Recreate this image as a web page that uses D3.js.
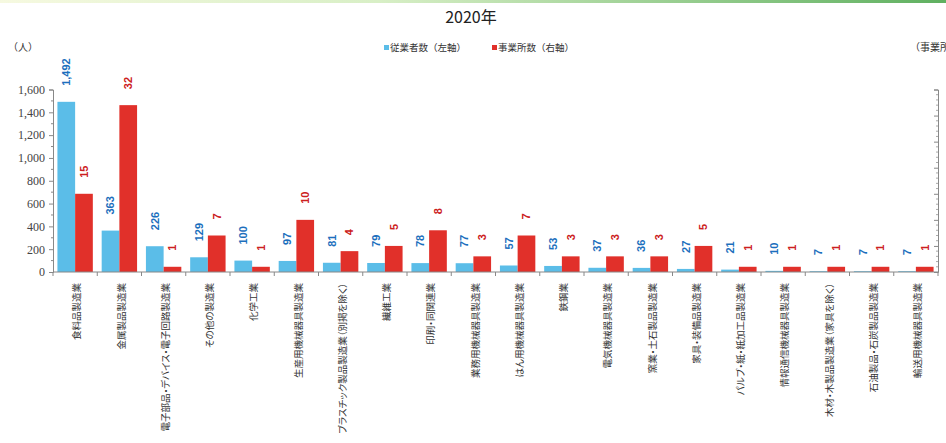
<!DOCTYPE html>
<html><head><meta charset="utf-8">
<script src="https://cdn.jsdelivr.net/npm/d3@7"></script>
<style>
body{margin:0;background:#fff;}
svg{display:block;}
.cat{font-feature-settings:"palt";}
</style></head>
<body>
<svg id="c" width="946" height="443"></svg>
<script>
const categories = [
  "食料品製造業","金属製品製造業","電子部品・デバイス・電子回路製造業","その他の製造業","化学工業",
  "生産用機械器具製造業","プラスチック製品製造業（別掲を除く）","繊維工業","印刷・同関連業","業務用機械器具製造業",
  "はん用機械器具製造業","鉄鋼業","電気機械器具製造業","窯業・土石製品製造業","家具・装備品製造業",
  "パルプ・紙・紙加工品製造業","情報通信機械器具製造業","木材・木製品製造業（家具を除く）","石油製品・石炭製品製造業","輸送用機械器具製造業"
];
const employees = [1492,363,226,129,100,97,81,79,78,77,57,53,37,36,27,21,10,7,7,7];
const establishments = [15,32,1,7,1,10,4,5,8,3,7,3,3,3,5,1,1,1,1,1];
const leftTicks = [0,200,400,600,800,1000,1200,1400,1600];
const rightTicks = [0,5,10,15,20,25,30,35];
const seriesNames = ["従業者数（左軸）","事業所数（右軸）"];
const title = "2020年";

const svg = d3.select("#c");
const L = 53, R = 938, T = 89.5, B = 272;
const blue = "#5bbde8", red = "#e1302a";
const blueText = "#1c6fbd", redText = "#cc2020";

// top gradient strip
const defs = svg.append("defs");
const g0 = defs.append("linearGradient").attr("id","gr").attr("x1","0").attr("x2","1");
g0.append("stop").attr("offset","0").attr("stop-color","#f6f9e0");
g0.append("stop").attr("offset","0.4").attr("stop-color","#d8efc6");
g0.append("stop").attr("offset","1").attr("stop-color","#5fb060");
svg.append("rect").attr("x",0).attr("y",0).attr("width",946).attr("height",3).attr("fill","url(#gr)");

const x = d3.scaleBand().domain(categories).range([L,R]).paddingInner(0.2).paddingOuter(0.1);
const xs = d3.scaleBand().domain(["emp","est"]).range([0,x.bandwidth()]);
const yL = d3.scaleLinear().domain([0,1600]).range([B,T]);
const yR = d3.scaleLinear().domain([0,35]).range([B,T]);

// title
svg.append("text").attr("x",471).attr("y",23).attr("text-anchor","middle")
  .attr("font-family","Noto Sans CJK JP, sans-serif").attr("font-size",16).attr("fill","#222").text(title);

// unit labels
svg.append("text").attr("x",8).attr("y",51).attr("font-family","Noto Sans CJK JP, serif").attr("font-size",10).attr("fill","#333").text("（人）");
svg.append("text").attr("x",910).attr("y",51).attr("font-family","Noto Sans CJK JP, serif").attr("font-size",10).attr("fill","#333").text("（事業所数）");

// legend
const lg = [[384,blue,seriesNames[0]],[492,red,seriesNames[1]]];
lg.forEach(([lx,col,t])=>{
  svg.append("rect").attr("x",lx).attr("y",45).attr("width",5).attr("height",5).attr("fill",col);
  svg.append("text").attr("x",lx+6).attr("y",51).attr("font-family","Noto Sans CJK JP, serif")
    .attr("font-size",9.5).attr("fill","#333").text(t);
});

// bars
const grp = svg.append("g");
categories.forEach((c,i)=>{
  const bx = x(c);
  grp.append("rect").attr("x",bx+xs("emp")).attr("y",yL(employees[i])).attr("width",xs.bandwidth())
    .attr("height",B-yL(employees[i])).attr("fill",blue);
  grp.append("rect").attr("x",bx+xs("est")).attr("y",yR(establishments[i])).attr("width",xs.bandwidth())
    .attr("height",B-yR(establishments[i])).attr("fill",red);
  // data labels
  const cxE = bx+xs("emp")+xs.bandwidth()/2, cyE = yL(employees[i])-16;
  svg.append("text").attr("transform",`translate(${cxE},${cyE}) rotate(-90)`).attr("dy","0.35em")
    .attr("font-family","Liberation Sans, Arial, sans-serif").attr("font-size",11).attr("font-weight","bold")
    .attr("fill",blueText).text(d3.format(",")(employees[i]));
  const cxS = bx+xs("est")+xs.bandwidth()/2, cyS = yR(establishments[i])-16;
  svg.append("text").attr("transform",`translate(${cxS},${cyS}) rotate(-90)`).attr("dy","0.35em")
    .attr("font-family","Liberation Sans, Arial, sans-serif").attr("font-size",11).attr("font-weight","bold")
    .attr("fill",redText).text(establishments[i]);
  // category labels
  svg.append("text").attr("class","cat").attr("transform",`translate(${bx+x.bandwidth()/2+2},${283}) rotate(-90)`)
    .attr("dy","0.35em").attr("text-anchor","end")
    .attr("font-family","Noto Sans CJK JP, sans-serif").attr("font-size",9.5).attr("fill","#333").text(c);
});

// left axis
const axL = svg.append("g").attr("transform",`translate(${L},0)`)
  .call(d3.axisLeft(yL).tickValues(leftTicks).tickFormat(d3.format(",")).tickSize(4).tickPadding(4));
axL.select(".domain").attr("stroke","#888");
axL.selectAll(".tick line").attr("stroke","#888");
axL.selectAll("text").attr("font-family","Liberation Serif, serif").attr("font-size",12).attr("fill","#444");
// minor ticks left
svg.append("g").selectAll("line").data(d3.range(100,1600,200)).join("line")
  .attr("x1",L-2).attr("x2",L).attr("y1",d=>yL(d)).attr("y2",d=>yL(d)).attr("stroke","#888");

// right axis
const axR = svg.append("g").attr("transform",`translate(${R},0)`)
  .call(d3.axisLeft(yR).tickValues(rightTicks).tickFormat("").tickSize(4));
axR.select(".domain").attr("stroke","#888");
axR.selectAll(".tick line").attr("stroke","#888");
svg.append("g").selectAll("line").data(d3.range(1,35).filter(d=>d%5)).join("line")
  .attr("x1",R-2).attr("x2",R).attr("y1",d=>yR(d)).attr("y2",d=>yR(d)).attr("stroke","#aaa");

// x axis line & boundary ticks
svg.append("line").attr("x1",L).attr("x2",R).attr("y1",B).attr("y2",B).attr("stroke","#888");
const step = x.step();
const start = x(categories[0]) - step*x.paddingInner()/2;
svg.append("g").selectAll("line").data(d3.range(categories.length+1)).join("line")
  .attr("x1",d=>start+d*step).attr("x2",d=>start+d*step).attr("y1",B).attr("y2",B+4).attr("stroke","#888");
</script>
</body></html>
